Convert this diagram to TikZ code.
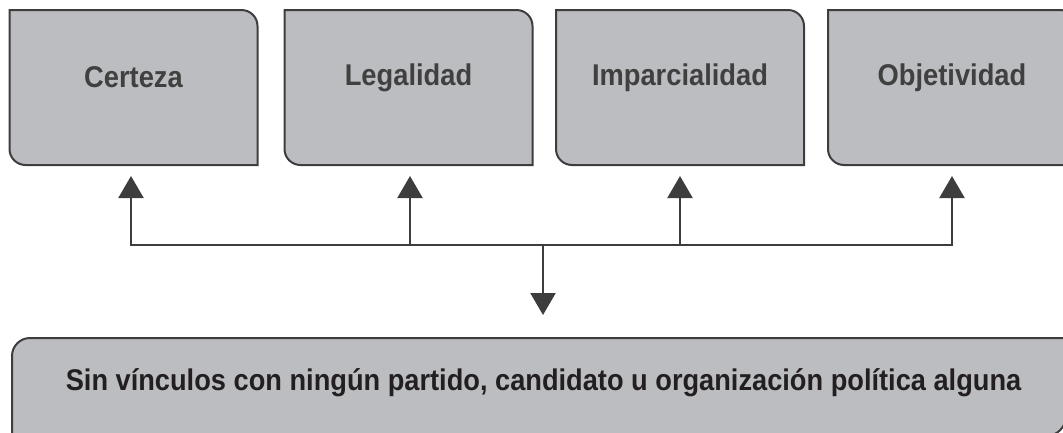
\documentclass[tikz,border=0pt]{standalone}
\usepackage{fontspec}
\setmainfont{Liberation Sans}[FakeStretch=0.91]
\usetikzlibrary{arrows.meta,calc}
\definecolor{boxfill}{HTML}{BCBDC1}
\definecolor{boxline}{HTML}{3D3D3D}
\definecolor{toptext}{HTML}{404040}
\definecolor{bottext}{HTML}{231F20}
\begin{document}
\begin{tikzpicture}[x=1pt,y=1pt,
  tbox/.style={rectangle,minimum width=248pt,minimum height=155pt,inner sep=0pt,outer sep=0pt},
  bbox/.style={rectangle,minimum width=1054pt,minimum height=98pt,inner sep=0pt,outer sep=0pt},
  boxpath/.style={draw=boxline,fill=boxfill,line width=2pt},
  toplabel/.style={font=\bfseries\fontsize{30}{36}\selectfont,text=toptext,inner sep=0pt},
  botlabel/.style={font=\bfseries\fontsize{29.9}{35}\selectfont,text=bottext,inner sep=0pt},
  conn/.style={draw=boxline,line width=2.2pt},
  arr/.style={conn,-{Triangle[length=22pt,width=25pt]}}
]
\useasboundingbox (0,0) rectangle (1063,-432);
\clip (0,0) rectangle (1063,-432);
% top boxes
\node[tbox] (b1) at (133.5,-87.5) {};
\node[tbox] (b2) at (408.5,-87.5) {};
\node[tbox] (b3) at (680,-87.5) {};
\node[tbox] (b4) at (952,-87.5) {};
\foreach \n in {b1,b2,b3,b4}{
  \path[boxpath] (\n.north west) -- ([xshift=-16pt]\n.north east)
    arc[start angle=90,end angle=0,radius=16pt] -- (\n.south east)
    -- ([xshift=16pt]\n.south west)
    arc[start angle=270,end angle=180,radius=16pt] -- cycle;
}
\node[toplabel] (t1) at ([yshift=10pt]b1.center) {Certeza};
\node[toplabel] (t2) at ([yshift=10pt]b2.center) {Legalidad};
\node[toplabel] (t3) at ([yshift=10pt]b3.center) {Imparcialidad};
\node[toplabel] (t4) at ([yshift=10pt]b4.center) {Objetividad};
% bottom box
\node[bbox] (bot) at (539,-387) {};
\path[boxpath] ([yshift=-18pt]bot.north west)
  arc[start angle=180,end angle=90,radius=18pt] -- (bot.north east)
  -- ([yshift=20pt]bot.south east)
  arc[start angle=0,end angle=-90,radius=20pt] -- (bot.south west) -- cycle;
\node[botlabel] (tb) at (543.5,-383) {Sin vínculos con ningún partido, candidato u organización política alguna};
% connectors
\coordinate (hub) at (543,-245);
\coordinate (tip1) at (131,-176);
\coordinate (tip2) at (410,-176);
\coordinate (tip3) at (680,-176);
\coordinate (tip4) at (952,-176);
\coordinate (tipb) at (543,-315);
\foreach \n in {tip1,tip2,tip3,tip4}{
  \draw[arr] (hub) -| (\n);
}
\draw[arr] (hub) -- (tipb);
\end{tikzpicture}
\end{document}
